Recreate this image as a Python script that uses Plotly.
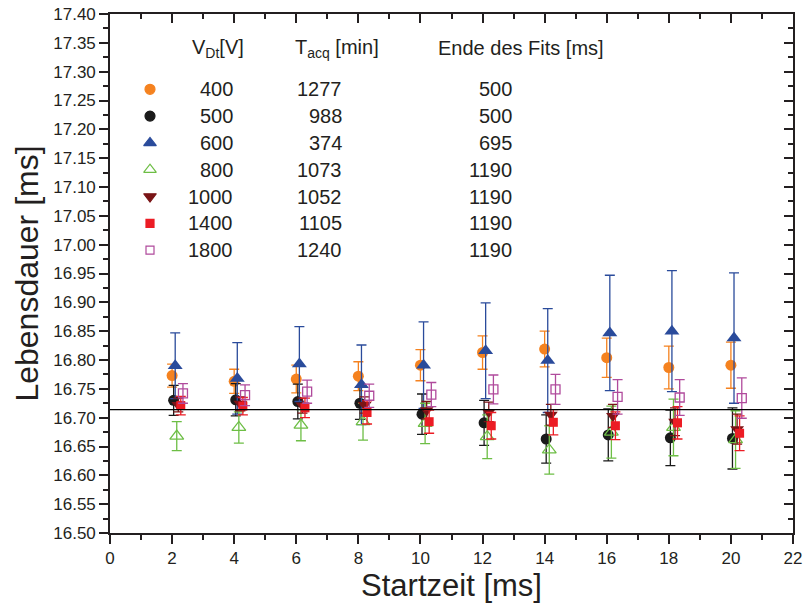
import plotly.graph_objects as go

# ---------------- data ----------------
START_TIMES = [2, 4, 6, 8, 10, 12, 14, 16, 18, 20]

VOLTAGES = ["400", "500", "600", "800", "1000", "1400", "1800"]
T_ACQ = ["1277", "988", "374", "1073", "1052", "1105", "1240"]
FIT_END = ["500", "500", "695", "1190", "1190", "1190", "1190"]

V400 = [16.773, 16.763, 16.767, 16.772, 16.791, 16.813, 16.819, 16.804, 16.787, 16.791]
V400_ERR = [0.020, 0.021, 0.024, 0.025, 0.027, 0.029, 0.031, 0.034, 0.037, 0.040]

V500 = [16.730, 16.731, 16.728, 16.725, 16.706, 16.691, 16.663, 16.670, 16.665, 16.664]
V500_ERR = [0.026, 0.028, 0.030, 0.028, 0.035, 0.039, 0.042, 0.045, 0.048, 0.053]

V600 = [16.790, 16.768, 16.793, 16.757, 16.791, 16.816, 16.799, 16.847, 16.850, 16.838]
V600_ERR = [0.057, 0.062, 0.065, 0.069, 0.075, 0.083, 0.090, 0.100, 0.105, 0.113]

V800 = [16.668, 16.683, 16.687, 16.693, 16.690, 16.667, 16.644, 16.675, 16.683, 16.662]
V800_ERR = [0.025, 0.027, 0.027, 0.032, 0.035, 0.038, 0.042, 0.045, 0.049, 0.050]

V1000 = [16.722, 16.724, 16.721, 16.722, 16.713, 16.710, 16.705, 16.703, 16.693, 16.680]
V1000_ERR = [0.012, 0.012, 0.013, 0.014, 0.015, 0.017, 0.018, 0.020, 0.024, 0.026]

V1400 = [16.721, 16.720, 16.717, 16.709, 16.693, 16.686, 16.692, 16.686, 16.691, 16.673]
V1400_ERR = [0.016, 0.015, 0.017, 0.020, 0.020, 0.023, 0.022, 0.024, 0.028, 0.030]

V1800 = [16.742, 16.739, 16.745, 16.738, 16.740, 16.749, 16.749, 16.736, 16.735, 16.734]
V1800_ERR = [0.017, 0.018, 0.020, 0.020, 0.021, 0.025, 0.026, 0.030, 0.031, 0.035]

REF_LIFETIME = 16.714

X_TICKS = [0, 2, 4, 6, 8, 10, 12, 14, 16, 18, 20, 22]
Y_TICKS = [16.50, 16.55, 16.60, 16.65, 16.70, 16.75, 16.80, 16.85, 16.90, 16.95,
           17.00, 17.05, 17.10, 17.15, 17.20, 17.25, 17.30, 17.35, 17.40]

# ---------------- styles ----------------
FONT = "Liberation Sans, Arial, sans-serif"
INK = "#231F20"
series = [
    (V400, V400_ERR, "circle", "#F5821F", 0.00, 11),
    (V500, V500_ERR, "circle", "#1A1A1A", 0.05, 11),
    (V600, V600_ERR, "triangle-up", "#2A4B9B", 0.10, 13),
    (V800, V800_ERR, "triangle-up-open", "#6DBE45", 0.15, 12),
    (V1000, V1000_ERR, "triangle-down", "#7A1416", 0.20, 12),
    (V1400, V1400_ERR, "square", "#EC1C24", 0.28, 9),
    (V1800, V1800_ERR, "square-open", "#B04A9C", 0.35, 9),
]

fig = go.Figure()

for vals, errs, sym, col, shift, size in series:
    fig.add_trace(go.Scatter(
        x=[t + shift for t in START_TIMES], y=vals,
        mode="markers",
        marker=dict(symbol=sym, color=col, size=size, opacity=1,
                    line=dict(width=1.3 if "open" in sym else 0, color=col)),
        error_y=dict(type="data", array=errs, visible=True, color=col,
                     thickness=1.3, width=5),
        showlegend=False, hoverinfo="skip",
    ))

# reference line
fig.add_shape(type="line", xref="paper", x0=0, x1=1, yref="y",
              y0=REF_LIFETIME, y1=REF_LIFETIME,
              line=dict(color="black", width=1.2))

# mirror axes (top / right) with inward ticks
fig.add_trace(go.Scatter(x=[None], y=[None], xaxis="x2", yaxis="y2",
                         showlegend=False, hoverinfo="skip"))

# legend table: markers on a hidden unit axis
rows_y = [(533 - (89.3 + 26.8 * i)) / 519 for i in range(len(VOLTAGES))]
fig.add_trace(go.Scatter(
    x=[(150 - 110) / 683] * len(VOLTAGES), y=rows_y,
    xaxis="x3", yaxis="y3", mode="markers",
    marker=dict(symbol=[s[2] for s in series], color=[s[3] for s in series],
                size=[10, 10, 11, 11, 11, 8, 8], opacity=1,
                line=dict(width=1.2, color=[s[3] for s in series])),
    showlegend=False, hoverinfo="skip",
))

ann = []
def px_x(p):
    return (p - 110) / 683

hdr_y = (533 - 48) / 519
ann.append(dict(text="V<sub>Dt</sub>[V]", x=px_x(190), y=hdr_y, xanchor="left"))
ann.append(dict(text="T<sub>acq</sub> [min]", x=px_x(293), y=hdr_y, xanchor="left"))
ann.append(dict(text="Ende des Fits [ms]", x=px_x(436), y=hdr_y, xanchor="left"))
for i, ry in enumerate(rows_y):
    ann.append(dict(text=VOLTAGES[i], x=px_x(235), y=ry, xanchor="right"))
    ann.append(dict(text=T_ACQ[i], x=px_x(344), y=ry, xanchor="right"))
    ann.append(dict(text=FIT_END[i], x=px_x(514), y=ry, xanchor="right"))
for a in ann:
    a.update(xref="paper", yref="paper", yanchor="middle", showarrow=False,
             font=dict(family=FONT, size=20, color=INK))

axis_common = dict(showline=True, linecolor=INK, linewidth=1.6,
                   showgrid=False, zeroline=False, automargin=False)

fig.update_layout(
    width=803, height=605,
    margin=dict(l=110, r=10, t=14, b=72, autoexpand=False),
    paper_bgcolor="white", plot_bgcolor="white",
    font=dict(family=FONT, color=INK),
    annotations=ann,
    xaxis=dict(range=[0, 22], tickvals=X_TICKS, ticks="outside", ticklen=9,
               tickwidth=1.5, tickcolor=INK,
               minor=dict(dtick=1, tick0=0, ticks="outside", ticklen=5,
                          tickwidth=1.5, tickcolor=INK),
               tickfont=dict(size=17), title=dict(text="Startzeit [ms]",
                                                  font=dict(size=31), standoff=4),
               **axis_common),
    yaxis=dict(range=[16.5, 17.4], tickvals=Y_TICKS, tickformat=".2f",
               ticks="outside", ticklen=9, tickwidth=1.5, tickcolor=INK,
               minor=dict(dtick=0.025, tick0=16.5, ticks="outside", ticklen=5,
                          tickwidth=1.5, tickcolor=INK),
               tickfont=dict(size=17), title=dict(text="Lebensdauer [ms]",
                                                  font=dict(size=32), standoff=5),
               **axis_common),
    xaxis2=dict(overlaying="x", side="top", range=[0, 22], tickvals=X_TICKS,
                ticks="inside", ticklen=9, tickwidth=1.5, tickcolor=INK,
                minor=dict(dtick=1, tick0=0, ticks="inside", ticklen=5,
                           tickwidth=1.5, tickcolor=INK),
                showticklabels=False, anchor="y", **axis_common),
    yaxis2=dict(overlaying="y", side="right", range=[16.5, 17.4], tickvals=Y_TICKS,
                ticks="inside", ticklen=9, tickwidth=1.5, tickcolor=INK,
                minor=dict(dtick=0.025, tick0=16.5, ticks="inside", ticklen=5,
                           tickwidth=1.5, tickcolor=INK),
                showticklabels=False, anchor="x", **axis_common),
    xaxis3=dict(overlaying="x", range=[0, 1], visible=False, anchor="y3"),
    yaxis3=dict(overlaying="y", range=[0, 1], visible=False, anchor="x3"),
)

fig.write_html("out.html", config={"displayModeBar": False},
               post_script="document.body.style.margin='0';")
